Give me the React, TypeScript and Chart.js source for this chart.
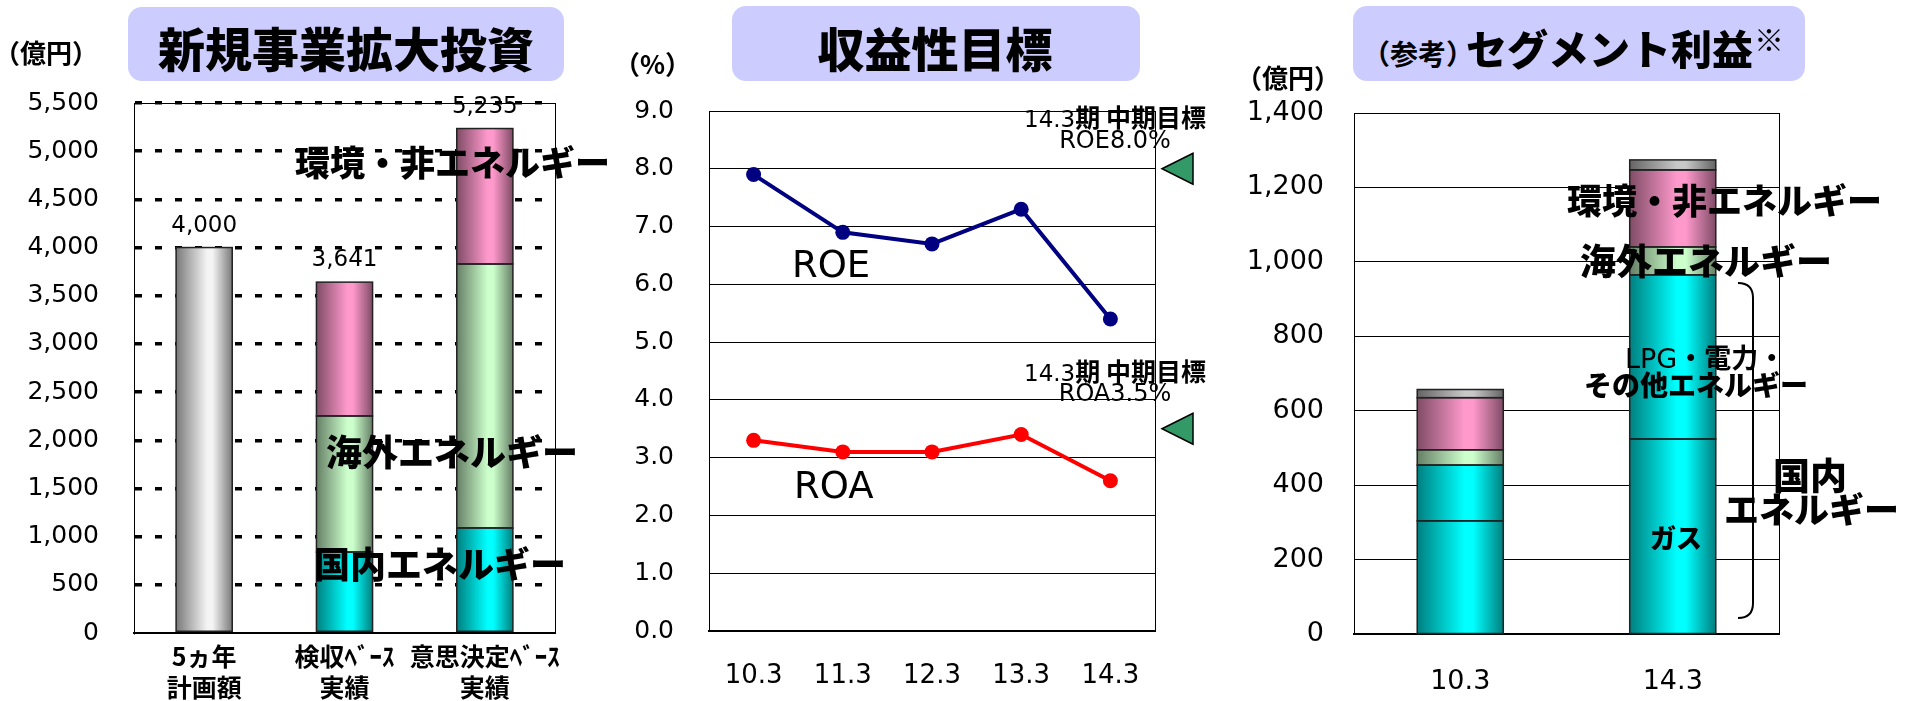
import React, { useEffect, useRef } from 'react';
import { Chart, registerables } from 'chart.js';

Chart.register(...registerables);

const NUM_FONT = '"DejaVu Sans", sans-serif';
const JP_FONT = '"Noto Sans CJK JP", sans-serif';

// ---- Panel 1: 新規事業拡大投資 (億円) ----
const investCategories = [['5ヵ年', '計画額'], ['検収ﾍﾞｰｽ', '実績'], ['意思決定ﾍﾞｰｽ', '実績']];
const investPlan = [4000, null, null];
const investDomestic = [null, 840, 1090];
const investOverseas = [null, 1412, 2739];
const investEnvironment = [null, 1389, 1406];
const investTotals = [4000, 3641, 5235];
const investAxis = { min: 0, max: 5500, step: 500 };

// ---- Panel 2: 収益性目標 (%) ----
const profitYears = ['10.3', '11.3', '12.3', '13.3', '14.3'];
const roeValues = [7.9, 6.9, 6.7, 7.3, 5.4];
const roaValues = [3.3, 3.1, 3.1, 3.4, 2.6];
const profitTargets = [8.0, 3.5];
const profitAxis = { min: 0, max: 9, step: 1 };

// ---- Panel 3: (参考)セグメント利益 (億円) ----
const segmentYears = ['10.3', '14.3'];
const segGas = [304, 524];
const segLpgPowerOther = [150, 441];
const segOverseas = [41, 75];
const segEnvironment = [140, 207];
const segOther = [22, 27];
const segmentAxis = { min: 0, max: 1400, step: 200 };

const framePlugin = {
  id: 'frame',
  beforeDatasetsDraw(chart: any) {
    const { ctx, chartArea: a } = chart;
    ctx.save();
    ctx.strokeStyle = '#000';
    ctx.lineWidth = 1;
    ctx.strokeRect(Math.round(a.left) + 0.5, Math.round(a.top) + 0.5, Math.round(a.right - a.left), Math.round(a.bottom - a.top));
    ctx.restore();
  },
};

const cylinderPlugin = {
  id: 'cylinder',
  afterDatasetsDraw(chart: any) {
    const ctx = chart.ctx;
    chart.data.datasets.forEach((ds: any, di: number) => {
      const meta = chart.getDatasetMeta(di);
      if (meta.type !== 'bar' || meta.hidden) return;
      meta.data.forEach((el: any, i: number) => {
        const v = ds.data[i];
        if (v === null || v === undefined) return;
        const { x, y, base, width } = el.getProps(['x', 'y', 'base', 'width'], true);
        if (!isFinite(x) || !isFinite(y)) return;
        const left = x - width / 2;
        const top = Math.min(y, base);
        const h = Math.abs(base - y);
        const g = ctx.createLinearGradient(left, 0, left + width, 0);
        g.addColorStop(0, 'rgba(0,0,0,0.5)');
        g.addColorStop(0.55, 'rgba(0,0,0,0)');
        g.addColorStop(0.65, 'rgba(0,0,0,0)');
        g.addColorStop(1, 'rgba(0,0,0,0.5)');
        ctx.save();
        ctx.fillStyle = g;
        ctx.fillRect(left, top, width, h);
        ctx.strokeStyle = '#222';
        ctx.lineWidth = 1.5;
        ctx.strokeRect(left, top, width, h);
        ctx.restore();
      });
    });
  },
};

const totalsPlugin = {
  id: 'totals',
  afterDatasetsDraw(chart: any) {
    const { ctx, scales } = chart;
    ctx.save();
    ctx.font = `23px ${NUM_FONT}`;
    ctx.fillStyle = '#000';
    ctx.textAlign = 'center';
    ctx.textBaseline = 'middle';
    investTotals.forEach((t, i) => {
      ctx.fillText(t.toLocaleString('en-US'), scales.x.getPixelForValue(i), scales.y.getPixelForValue(t) - 22);
    });
    ctx.restore();
  },
};

const targetPlugin = {
  id: 'targets',
  afterDraw(chart: any) {
    const { ctx, chartArea, scales } = chart;
    ctx.save();
    ctx.fillStyle = '#339966';
    ctx.strokeStyle = '#000';
    ctx.lineWidth = 1.5;
    profitTargets.forEach((t) => {
      const yp = scales.y.getPixelForValue(t);
      const tip = chartArea.right + 7;
      const back = chartArea.right + 38;
      ctx.beginPath();
      ctx.moveTo(tip, yp);
      ctx.lineTo(back, yp - 15.5);
      ctx.lineTo(back, yp + 15.5);
      ctx.closePath();
      ctx.fill();
      ctx.stroke();
    });
    ctx.restore();
  },
};

function ChartCanvas({ left, width, config }: { left: number; width: number; config: () => any }) {
  const ref = useRef<HTMLCanvasElement | null>(null);
  useEffect(() => {
    if (!ref.current) return;
    const chart = new Chart(ref.current, config());
    return () => chart.destroy();
  }, []);
  return <canvas ref={ref} width={width} height={701} style={{ position: 'absolute', left, top: 0, width, height: 701 }} />;
}

const baseOptions = {
  responsive: false,
  animation: false,
  events: [],
  plugins: { legend: { display: false }, tooltip: { enabled: false } },
};

function investConfig() {
  const ds = [
    { data: investPlan, backgroundColor: '#F4F4F4' },
    { data: investDomestic, backgroundColor: '#00FFFF' },
    { data: investOverseas, backgroundColor: '#CCFFCC' },
    { data: investEnvironment, backgroundColor: '#FF99CC' },
  ].map((d) => ({ ...d, stack: 's', borderWidth: 0, categoryPercentage: 1, barPercentage: 0.4 }));
  return {
    type: 'bar',
    data: { labels: investCategories, datasets: ds },
    options: {
      ...baseOptions,
      layout: { padding: { left: 0, top: 103, right: 65, bottom: 0 } },
      scales: {
        x: {
          stacked: true,
          grid: { display: false, drawTicks: false },
          border: { display: true, color: '#000', width: 2 },
          ticks: { color: '#000', padding: 8, maxRotation: 0, autoSkip: false, font: { family: JP_FONT, size: 25, weight: 'bold', lineHeight: 1.24 } },
          afterFit: (s: any) => { s.height = 68; },
        },
        y: {
          stacked: true,
          min: investAxis.min,
          max: investAxis.max,
          ticks: { stepSize: investAxis.step, maxTicksLimit: 30, color: '#000', padding: 35, font: { family: NUM_FONT, size: 25 }, callback: (v: any) => Number(v).toLocaleString('en-US') },
          grid: { color: (c: any) => (c.tick && c.tick.value === 0 ? 'rgba(0,0,0,0)' : '#000'), lineWidth: 3.5, drawTicks: false },
          border: { display: true, color: '#000', width: 1, dash: [7, 13] },
          afterFit: (s: any) => { s.width = 134; },
        },
      },
    },
    plugins: [framePlugin, cylinderPlugin, totalsPlugin],
  };
}

function profitConfig() {
  const line = (data: number[], color: string) => ({
    data,
    borderColor: color,
    backgroundColor: color,
    pointBackgroundColor: color,
    borderWidth: 4,
    pointRadius: 7.5,
    pointBorderWidth: 0,
    tension: 0,
  });
  return {
    type: 'line',
    data: { labels: profitYears, datasets: [line(roeValues, '#000080'), line(roaValues, '#FF0000')] },
    options: {
      ...baseOptions,
      layout: { padding: { left: 0, top: 111, right: 85, bottom: 0 } },
      scales: {
        x: {
          offset: true,
          grid: { display: false, drawTicks: false },
          border: { display: true, color: '#000', width: 2 },
          ticks: { color: '#000', padding: 30, maxRotation: 0, autoSkip: false, font: { family: NUM_FONT, size: 26 } },
          afterFit: (s: any) => { s.height = 70; },
        },
        y: {
          min: profitAxis.min,
          max: profitAxis.max,
          ticks: { stepSize: profitAxis.step, color: '#000', padding: 35, font: { family: NUM_FONT, size: 25 }, callback: (v: any) => Number(v).toFixed(1) },
          grid: { color: '#000', lineWidth: 1, drawTicks: false },
          border: { display: true, color: '#000', width: 1 },
          afterFit: (s: any) => { s.width = 89; },
        },
      },
    },
    plugins: [framePlugin, targetPlugin],
  };
}

function segmentConfig() {
  const ds = [
    { data: segGas, backgroundColor: '#00FFFF' },
    { data: segLpgPowerOther, backgroundColor: '#00FFFF' },
    { data: segOverseas, backgroundColor: '#CCFFCC' },
    { data: segEnvironment, backgroundColor: '#FF99CC' },
    { data: segOther, backgroundColor: '#C8C8C8' },
  ].map((d) => ({ ...d, stack: 's', borderWidth: 0, categoryPercentage: 1, barPercentage: 0.405 }));
  return {
    type: 'bar',
    data: { labels: segmentYears, datasets: ds },
    options: {
      ...baseOptions,
      layout: { padding: { left: 0, top: 113, right: 135, bottom: 0 } },
      scales: {
        x: {
          stacked: true,
          grid: { display: false, drawTicks: false },
          border: { display: true, color: '#000', width: 2 },
          ticks: { color: '#000', padding: 32, maxRotation: 0, autoSkip: false, font: { family: NUM_FONT, size: 27 } },
          afterFit: (s: any) => { s.height = 67; },
        },
        y: {
          stacked: true,
          min: segmentAxis.min,
          max: segmentAxis.max,
          ticks: { stepSize: segmentAxis.step, color: '#000', padding: 30, font: { family: NUM_FONT, size: 27 }, callback: (v: any) => Number(v).toLocaleString('en-US') },
          grid: { color: '#000', lineWidth: 1, drawTicks: false },
          border: { display: true, color: '#000', width: 1 },
          afterFit: (s: any) => { s.width = 114; },
        },
      },
    },
    plugins: [framePlugin, cylinderPlugin],
  };
}

function Label({ x, y, size, children, bold = true, font = JP_FONT, center = false, weight }: any) {
  return (
    <div
      style={{
        position: 'absolute',
        left: x,
        top: y,
        transform: center ? 'translate(-50%, -50%)' : 'translateY(-50%)',
        fontFamily: font,
        fontSize: size,
        fontWeight: weight ?? (bold ? 700 : 400),
        lineHeight: 1,
        whiteSpace: 'nowrap',
        color: '#000',
      }}
    >
      {children}
    </div>
  );
}

function TitleBox({ x, y, w, h }: any) {
  return <div style={{ position: 'absolute', left: x, top: y, width: w, height: h, background: '#CCCCFF', borderRadius: 14 }} />;
}

export default function App() {
  return (
    <div style={{ position: 'fixed', left: 0, top: 0, width: 1914, height: 701, background: '#fff', overflow: 'hidden' }}>
      <ChartCanvas left={0} width={620} config={investConfig} />
      <ChartCanvas left={620} width={620} config={profitConfig} />
      <ChartCanvas left={1240} width={674} config={segmentConfig} />

      {/* Panel 1 */}
      <TitleBox x={128} y={7} w={436} h={74} />
      <Label x={346} y={46} size={47} weight={900} center>新規事業拡大投資</Label>
      <Label x={-6} y={52} size={26}>（億円）</Label>
      <Label x={295} y={160} size={35} weight={900}>環境・非エネルギー</Label>
      <Label x={326} y={450} size={36} weight={900}>海外エネルギー</Label>
      <Label x={314} y={562} size={36} weight={900}>国内エネルギー</Label>

      {/* Panel 2 */}
      <TitleBox x={732} y={6} w={408} h={75} />
      <Label x={935} y={46} size={47} weight={900} center>収益性目標</Label>
      <Label x={614} y={63} size={26}>（%）</Label>
      <Label x={792} y={264} size={37} bold={false} font={NUM_FONT}>ROE</Label>
      <Label x={794} y={485} size={37} bold={false} font={NUM_FONT}>ROA</Label>
      <Label x={1115} y={117} size={25} center>
        <span style={{ fontFamily: NUM_FONT, fontWeight: 400, fontSize: 23 }}>14.3</span>期 中期目標
      </Label>
      <Label x={1115} y={140} size={24} center bold={false} font={NUM_FONT}>ROE8.0%</Label>
      <Label x={1115} y={371} size={25} center>
        <span style={{ fontFamily: NUM_FONT, fontWeight: 400, fontSize: 23 }}>14.3</span>期 中期目標
      </Label>
      <Label x={1115} y={393} size={24} center bold={false} font={NUM_FONT}>ROA3.5%</Label>

      {/* Panel 3 */}
      <TitleBox x={1353} y={6} w={452} h={75} />
      <Label x={1362} y={53} size={28}>（参考）</Label>
      <Label x={1466} y={47} size={41} weight={900}>セグメント利益</Label>
      <Label x={1754} y={38} size={30}>※</Label>
      <Label x={1236} y={77} size={26}>（億円）</Label>
      <Label x={1567} y={198} size={35} weight={900}>環境・非エネルギー</Label>
      <Label x={1580} y={259} size={36} weight={900}>海外エネルギー</Label>
      <Label x={1625} y={357} size={27}>
        <span style={{ fontFamily: NUM_FONT, fontWeight: 400 }}>LPG</span>・電力・
      </Label>
      <Label x={1584} y={384} size={28} weight={900}>その他エネルギー</Label>
      <Label x={1650} y={537} size={26} weight={900}>ガス</Label>
      <Label x={1773} y={474} size={37} weight={900}>国内</Label>
      <Label x={1724} y={507} size={35} weight={900}>エネルギー</Label>
      <svg width={1914} height={701} style={{ position: 'absolute', left: 0, top: 0, pointerEvents: 'none' }}>
        <path d="M1738,283 Q1753,283 1753,298 L1753,603 Q1753,618 1738,618" stroke="#000" strokeWidth={2} fill="none" />
      </svg>
    </div>
  );
}
